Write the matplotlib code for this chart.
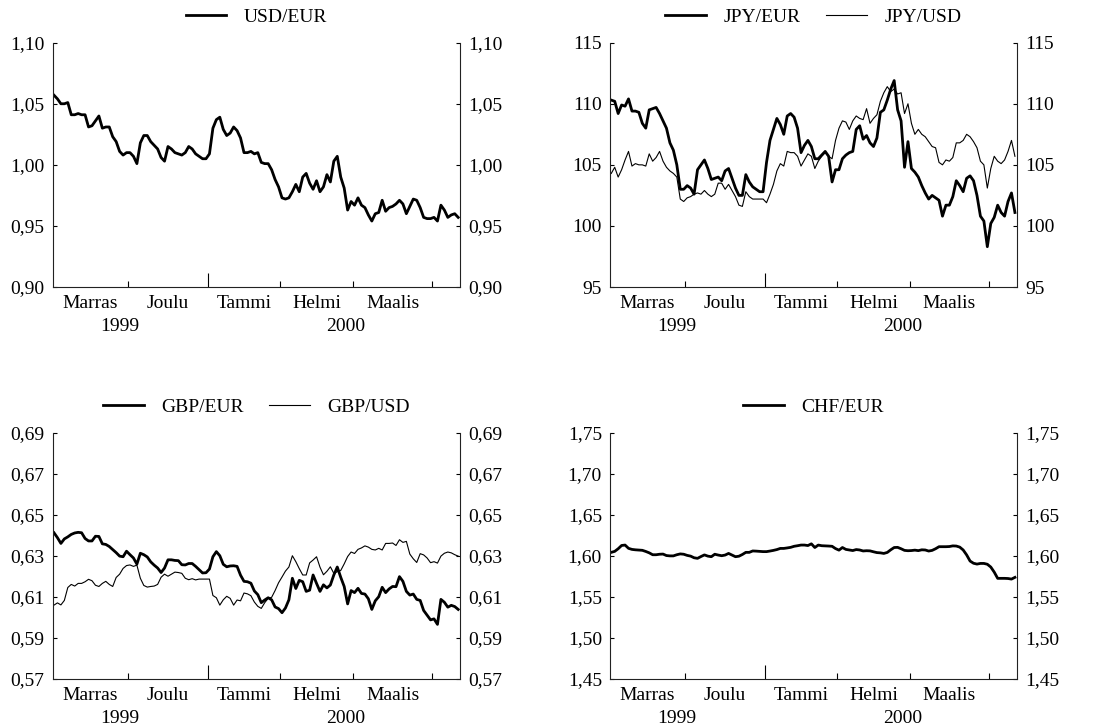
import numpy as np
import pandas as pd
import matplotlib
matplotlib.use('Agg')
import matplotlib.pyplot as plt
import matplotlib.transforms as mtransforms

plt.rcParams['font.family'] = ['Liberation Serif', 'DejaVu Serif']
plt.rcParams['font.size'] = 14

# pankkipäivät 1.11.1999 - 12.4.2000
paivat = pd.bdate_range('1999-11-01', periods=118)

usd_eur = [1.057, 1.054, 1.050, 1.050, 1.051, 1.041, 1.041, 1.042, 1.041, 1.041,
           1.031, 1.032, 1.036, 1.040, 1.030, 1.031, 1.031, 1.023, 1.019, 1.011,
           1.008, 1.010, 1.010, 1.007, 1.001, 1.018, 1.024, 1.024, 1.019, 1.016,
           1.013, 1.006, 1.003, 1.015, 1.013, 1.010, 1.009, 1.008, 1.010, 1.015,
           1.013, 1.009, 1.007, 1.005, 1.005, 1.009, 1.030, 1.037, 1.039, 1.029,
           1.024, 1.026, 1.031, 1.028, 1.022, 1.010, 1.010, 1.011, 1.009, 1.010,
           1.002, 1.001, 1.001, 0.996, 0.988, 0.982, 0.973, 0.972, 0.973, 0.978,
           0.984, 0.978, 0.990, 0.993, 0.985, 0.980, 0.987, 0.978, 0.982, 0.992,
           0.986, 1.003, 1.007, 0.990, 0.981, 0.963, 0.970, 0.967, 0.973, 0.967,
           0.965, 0.959, 0.954, 0.960, 0.961, 0.971, 0.962, 0.965, 0.966, 0.968,
           0.971, 0.968, 0.960, 0.966, 0.972, 0.971, 0.965, 0.957, 0.956, 0.956,
           0.957, 0.954, 0.967, 0.963, 0.957, 0.959, 0.960, 0.957]

jpy_eur = [110.3, 110.2, 109.2, 109.9, 109.8, 110.4, 109.4, 109.4, 109.3, 108.4,
           108.0, 109.5, 109.6, 109.7, 109.2, 108.6, 108.0, 106.8, 106.2, 105.0,
           103.0, 103.0, 103.3, 103.1, 102.6, 104.6, 105.0, 105.4, 104.7, 103.8,
           103.9, 104.0, 103.7, 104.5, 104.7, 103.9, 103.1, 102.5, 102.5, 104.2,
           103.6, 103.2, 103.0, 102.8, 102.8, 105.2, 107.0, 107.9, 108.8, 108.3,
           107.5, 109.0, 109.2, 108.9, 108.0, 106.0, 106.6, 107.0, 106.5, 105.5,
           105.5, 105.8, 106.1, 105.7, 103.6, 104.6, 104.6, 105.5, 105.8, 106.0,
           106.1, 107.9, 108.2, 107.1, 107.4, 106.8, 106.5, 107.2, 109.3, 109.5,
           110.3, 111.2, 111.9, 109.5, 108.6, 104.8, 106.9, 104.7, 104.4, 104.0,
           103.3, 102.7, 102.2, 102.5, 102.3, 102.1, 100.8, 101.7, 101.7, 102.4,
           103.7, 103.3, 102.8, 103.9, 104.1, 103.7, 102.5, 100.8, 100.4, 98.3,
           100.2, 100.7, 101.7, 101.1, 100.8, 102.0, 102.7, 101.1]

jpy_usd = [104.3, 104.8, 104.0, 104.6, 105.4, 106.1, 104.9, 105.1, 105.0, 105.0,
           104.9, 105.9, 105.3, 105.6, 106.1, 105.3, 104.8, 104.5, 104.3, 104.0,
           102.2, 102.0, 102.3, 102.4, 102.6, 102.7, 102.6, 102.9, 102.6, 102.4,
           102.6, 103.5, 103.5, 103.0, 103.4, 102.9, 102.4, 101.7, 101.6, 102.8,
           102.4, 102.2, 102.2, 102.2, 102.2, 101.9, 102.6, 103.4, 104.5, 105.1,
           104.9, 106.1, 106.0, 106.0, 105.7, 104.9, 105.4, 105.9, 105.7, 104.7,
           105.3, 105.7, 106.0, 105.7, 105.5, 107.0, 108.0, 108.6, 108.5, 107.9,
           108.6, 109.0, 108.8, 108.7, 109.6, 108.4, 108.8, 109.1, 110.2, 110.9,
           111.4, 111.0, 111.2, 110.8, 110.9, 109.2, 110.0, 108.4, 107.5, 107.9,
           107.5, 107.3, 106.9, 106.5, 106.4, 105.2, 105.0, 105.4, 105.3, 105.6,
           106.8, 106.8, 107.0, 107.5, 107.3, 106.9, 106.4, 105.3, 105.0, 103.1,
           104.7, 105.7, 105.3, 105.1, 105.4, 106.1, 107.0, 105.7]

gbp_eur = [0.6412, 0.6388, 0.6360, 0.6382, 0.6392, 0.6404, 0.6411, 0.6414, 0.6412, 0.6384,
           0.6372, 0.6372, 0.6395, 0.6394, 0.6358, 0.6355, 0.6345, 0.6330, 0.6315, 0.6298,
           0.6295, 0.6322, 0.6305, 0.6289, 0.6259, 0.6312, 0.6305, 0.6294, 0.6270, 0.6254,
           0.6240, 0.6218, 0.6240, 0.6280, 0.6280, 0.6277, 0.6276, 0.6256, 0.6255, 0.6262,
           0.6262, 0.6248, 0.6232, 0.6216, 0.6217, 0.6235, 0.6295, 0.6320, 0.6300, 0.6258,
           0.6246, 0.6250, 0.6251, 0.6248, 0.6205, 0.6175, 0.6173, 0.6166, 0.6128, 0.6110,
           0.6071, 0.6084, 0.6095, 0.6085, 0.6050, 0.6042, 0.6022, 0.6045, 0.6085, 0.6190,
           0.6140, 0.6180, 0.6173, 0.6126, 0.6132, 0.6206, 0.6165, 0.6126, 0.6158, 0.6143,
           0.6157, 0.6206, 0.6245, 0.6195, 0.6150, 0.6065, 0.6130, 0.6120, 0.6141, 0.6116,
           0.6113, 0.6090, 0.6038, 0.6080, 0.6100, 0.6146, 0.6120, 0.6138, 0.6150, 0.6149,
           0.6198, 0.6175, 0.6126, 0.6108, 0.6113, 0.6087, 0.6082, 0.6033, 0.6010, 0.5987,
           0.5992, 0.5965, 0.6087, 0.6073, 0.6049, 0.6058, 0.6052, 0.6038]

gbp_usd = [0.6059, 0.6070, 0.6060, 0.6082, 0.6145, 0.6160, 0.6152, 0.6165, 0.6165, 0.6173,
           0.6185, 0.6178, 0.6156, 0.6150, 0.6165, 0.6175, 0.6160, 0.6150, 0.6194, 0.6210,
           0.6238, 0.6252, 0.6255, 0.6248, 0.6254, 0.6190, 0.6155, 0.6147, 0.6150, 0.6152,
           0.6160, 0.6195, 0.6210, 0.6200, 0.6210, 0.6220, 0.6218, 0.6214, 0.6190, 0.6183,
           0.6188, 0.6182, 0.6186, 0.6186, 0.6186, 0.6186, 0.6106, 0.6095, 0.6059, 0.6085,
           0.6102, 0.6092, 0.6059, 0.6084, 0.6080, 0.6118, 0.6114, 0.6105, 0.6074, 0.6053,
           0.6043, 0.6071, 0.6092, 0.6097, 0.6130, 0.6168, 0.6196, 0.6225, 0.6245, 0.6300,
           0.6271, 0.6237, 0.6206, 0.6206, 0.6265, 0.6279, 0.6295, 0.6244, 0.6207, 0.6224,
           0.6246, 0.6214, 0.6222, 0.6228, 0.6260, 0.6296, 0.6318, 0.6311, 0.6331, 0.6338,
           0.6348, 0.6342, 0.6331, 0.6328, 0.6336, 0.6328, 0.6360, 0.6360, 0.6362, 0.6350,
           0.6378, 0.6365, 0.6370, 0.6308, 0.6285, 0.6267, 0.6310, 0.6304, 0.6289, 0.6266,
           0.6271, 0.6264, 0.6298, 0.6312, 0.6318, 0.6314, 0.6305, 0.6298]

chf_eur = [1.6041, 1.6053, 1.6085, 1.6125, 1.6130, 1.6090, 1.6077, 1.6072, 1.6069, 1.6066,
           1.6052, 1.6035, 1.6012, 1.6012, 1.6018, 1.6020, 1.6002, 1.5998, 1.5998, 1.6012,
           1.6022, 1.6018, 1.6004, 1.5995, 1.5975, 1.5968, 1.5990, 1.6010, 1.5995, 1.5988,
           1.6018, 1.6008, 1.6000, 1.6008, 1.6028, 1.6008, 1.5988, 1.5994, 1.6015, 1.6041,
           1.6041, 1.6058, 1.6056, 1.6053, 1.6050, 1.6050, 1.6057, 1.6065, 1.6075, 1.6089,
           1.6089, 1.6095, 1.6102, 1.6115, 1.6122, 1.6130, 1.6130, 1.6124, 1.6145, 1.6100,
           1.6130, 1.6122, 1.6120, 1.6118, 1.6115, 1.6087, 1.6068, 1.6100, 1.6077, 1.6070,
           1.6063, 1.6075, 1.6070, 1.6058, 1.6061, 1.6059, 1.6048, 1.6038, 1.6035, 1.6028,
           1.6040, 1.6072, 1.6100, 1.6102, 1.6085, 1.6065, 1.6061, 1.6063, 1.6068, 1.6062,
           1.6072, 1.6070, 1.6057, 1.6065, 1.6085, 1.6110, 1.6110, 1.6110, 1.6112, 1.6120,
           1.6118, 1.6105, 1.6070, 1.6010, 1.5935, 1.5908, 1.5898, 1.5906, 1.5906, 1.5896,
           1.5862, 1.5800, 1.5724, 1.5724, 1.5724, 1.5722, 1.5715, 1.5736]

kuukaudet = {11: 'Marras', 12: 'Joulu', 1: 'Tammi', 2: 'Helmi', 3: 'Maalis'}
vuodet = ['1999', '2000']

x = np.arange(len(paivat))
kk = paivat.month.values
vv = paivat.year.values

# kuukausien rajat (uuden kuukauden ensimmäinen pankkipäivä)
rajat = [i - 0.5 for i in range(1, len(x)) if kk[i] != kk[i - 1]]
vuosiraja = [i - 0.5 for i in range(1, len(x)) if vv[i] != vv[i - 1]]
kk_rajat = [r for r in rajat if r not in vuosiraja]
vuosi_x = {'1999': 19, '2000': 84.5}


def pilkku(v, des):
    return f'{v:.{des}f}'.replace('.', ',')


def paneeli(rect, sarjat, ylim, yticks, des):
    ax = fig.add_axes(rect)
    for arvot, nimi, lw in sarjat:
        ax.plot(x, arvot, color='black', lw=lw, label=nimi, solid_joinstyle='round')
    ax.set_xlim(-0.3, len(x) - 0.5)
    ax.set_ylim(*ylim)

    ax.spines['top'].set_visible(False)
    for s in ['left', 'right', 'bottom']:
        ax.spines[s].set_linewidth(0.8)
        ax.spines[s].set_color('#222222')

    ax.set_yticks(yticks)
    ax.set_yticklabels([pilkku(v, des) for v in yticks])
    ax.tick_params(axis='y', direction='in', length=3, width=0.8, left=True, right=True,
                   labelleft=True, labelright=True, pad=6)

    ax.set_xticks(kk_rajat)
    ax.set_xticks(vuosiraja, minor=True)
    ax.tick_params(axis='x', which='major', direction='in', length=4, width=0.8,
                   labelbottom=False)
    ax.tick_params(axis='x', which='minor', direction='in', length=10, width=0.8,
                   labelbottom=False)

    trans = mtransforms.blended_transform_factory(ax.transData, ax.transAxes)
    for m, nimi in kuukaudet.items():
        idx = np.where(kk == m)[0]
        ax.text((idx[0] + idx[-1]) / 2, -0.087, nimi, transform=trans,
                ha='center', va='baseline')
    for v in vuodet:
        ax.text(vuosi_x[v], -0.178, v, transform=trans, ha='center', va='baseline')

    ax.legend(loc='center', bbox_to_anchor=(0.5, 1.105), ncol=2, frameon=False,
              handlelength=2.1, handletextpad=0.9, columnspacing=1.3, borderaxespad=0)
    return ax


fig = plt.figure(figsize=(10.94, 7.27), dpi=100)

paneeli([0.0484, 0.6052, 0.3720, 0.3361], [(usd_eur, 'USD/EUR', 2.0)],
        (0.90, 1.10), np.arange(0.90, 1.101, 0.05), 2)
paneeli([0.5578, 0.6052, 0.3715, 0.3361],
        [(jpy_eur, 'JPY/EUR', 2.0), (jpy_usd, 'JPY/USD', 0.8)],
        (95, 115), np.arange(95, 116, 5), 0)
paneeli([0.0484, 0.0664, 0.3720, 0.3384],
        [(gbp_eur, 'GBP/EUR', 2.0), (gbp_usd, 'GBP/USD', 0.8)],
        (0.57, 0.69), np.arange(0.57, 0.691, 0.02), 2)
paneeli([0.5578, 0.0664, 0.3715, 0.3384], [(chf_eur, 'CHF/EUR', 2.0)],
        (1.45, 1.75), np.arange(1.45, 1.751, 0.05), 2)

fig.savefig('out.png', dpi=100)
